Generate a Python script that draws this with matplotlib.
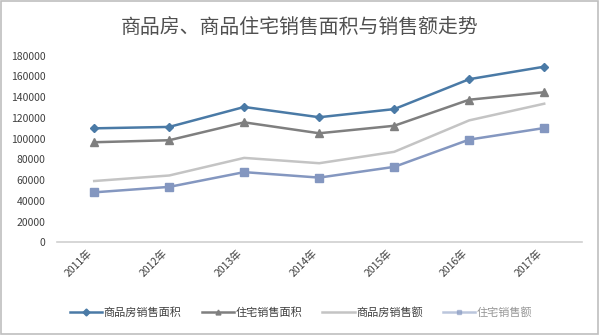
import matplotlib.pyplot as plt
from matplotlib.patches import Rectangle

plt.rcParams['font.family'] = ['Noto Sans CJK SC', 'DejaVu Sans']

# data: years and the four series
years = ['2011年', '2012年', '2013年', '2014年', '2015年', '2016年', '2017年']
area_all = [109946, 111304, 130551, 120649, 128495, 157349, 169408]
area_res = [96528, 98468, 115723, 105188, 112412, 137540, 144789]
sales_all = [59119, 64456, 81428, 76292, 87281, 117627, 133701]
sales_res = [48198, 53467, 67695, 62411, 72770, 99064, 110240]
names = ['商品房销售面积', '住宅销售面积', '商品房销售额', '住宅销售额']
yticks = list(range(0, 180001, 20000))

fig = plt.figure(figsize=(6, 3.35), dpi=100)
ax = fig.add_axes([0.0945, 0.2767, 0.875, 0.557])

x = range(len(years))
ax.plot(x, area_all, color='#4a7aa6', lw=1.8, marker='D', ms=4.5, label=names[0])
ax.plot(x, area_res, color='#7f7f7f', lw=1.8, marker='^', ms=6, label=names[1])
ax.plot(x, sales_all, color='#c4c4c4', lw=1.8, label=names[2])
ax.plot(x, sales_res, color='#8497c0', lw=1.8, marker='s', ms=5.5, label=names[3])

ax.set_xlim(-0.5, len(years) - 0.5)
ax.set_ylim(0, 180000)
ax.set_yticks(yticks)
ax.set_yticklabels([str(v) for v in yticks], fontsize=7.5, color='#404040')
ax.set_xticks(list(x))
ax.set_xticklabels(years, rotation=45, ha='right', va='top', fontsize=7.5,
                   color='#404040')
ax.tick_params(axis='both', length=0)
ax.tick_params(axis='y', pad=8)
ax.tick_params(axis='x', pad=4)
for side in ['top', 'right', 'left']:
    ax.spines[side].set_visible(False)
ax.spines['bottom'].set_color('#d0d0d0')
ax.spines['bottom'].set_linewidth(1.2)

fig.text(0.5, 0.918, '商品房、商品住宅销售面积与销售额走势', ha='center', va='center',
         fontsize=14.3, color='#505050', fontweight='light')

leg = fig.legend(loc='center', bbox_to_anchor=(0.502, 0.067), ncol=4, frameon=False,
                 fontsize=8, handlelength=2.9, handletextpad=0.15,
                 columnspacing=1.8, labelcolor='#404040')
for h in leg.legend_handles:
    h.set_markersize(3.5)
leg.get_texts()[3].set_alpha(0.55)
leg.legend_handles[3].set_alpha(0.55)

fig.patches.append(Rectangle((0.002, 0.003), 0.994, 0.993, transform=fig.transFigure,
                             fill=False, edgecolor='#bfbfbf', lw=1.2))

fig.savefig('out.png', dpi=100, facecolor='white')
